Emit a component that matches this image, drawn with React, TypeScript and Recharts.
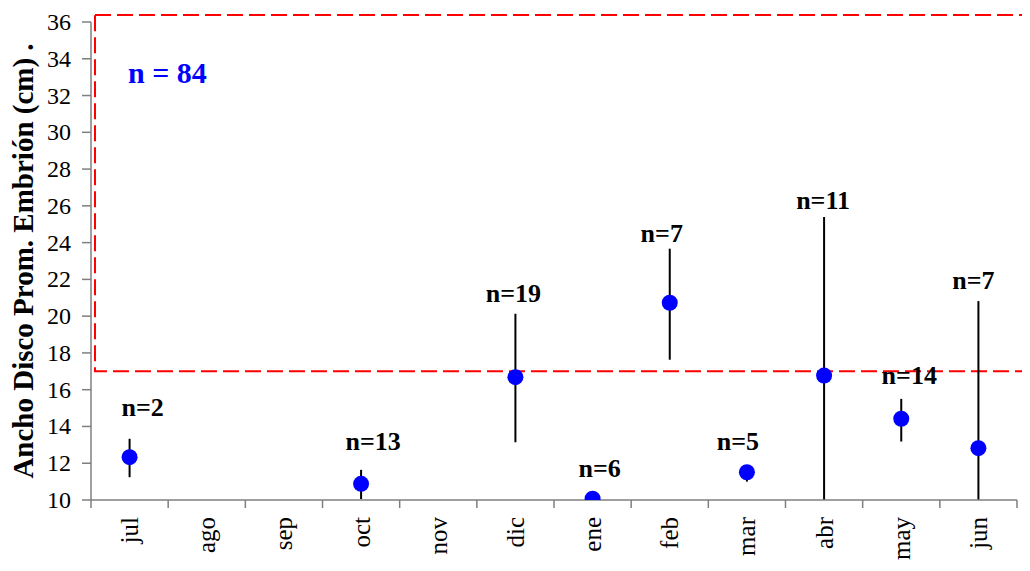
import React from "react";
import { ComposedChart, ErrorBar, ReferenceArea, Scatter, XAxis, YAxis } from "recharts";

const months = ["jul", "ago", "sep", "oct", "nov", "dic", "ene", "feb", "mar", "abr", "may", "jun"];
const means = [12.33, null, null, 10.88, null, 16.68, 10.07, 20.73, 11.51, 16.77, 14.42, 12.82];
const upper = [13.33, null, null, 11.64, null, 20.13, 10.07, 23.67, 11.9, 25.39, 15.5, 20.82];
const lower = [11.24, null, null, 10.05, null, 13.14, 10.07, 17.63, 11.0, 10.0, 13.18, 10.0];
const counts = [2, null, null, 13, null, 19, 6, 7, 5, 11, 14, 7];
// y value where each "n=" label sits
const labelAt = [15.03, null, null, 13.2, null, 21.25, 11.73, 24.5, 13.2, 26.3, 16.77, 21.94];
const yTicks = [10, 12, 14, 16, 18, 20, 22, 24, 26, 28, 30, 32, 34, 36];
const boxBottom = 17;
const boxTop = 36.38;
const totalN = 84;

// small horizontal nudges for the n= labels (layout only)
const labelShift = [13, 0, 0, 12, 0, -2, 7, -8, -9, -1, 8, -5];

const FONT = '"Liberation Serif", "Times New Roman", serif';
const AXIS = "#7f7f7f";
const W = 1022;
const H = 563;
const margin = { top: 14, right: 13, bottom: 0, left: 33 };
const Y_W = 50;
const HALF_BAND = (W - margin.left - margin.right - Y_W) / months.length / 2;

const rows = months.map((m, i) => ({
  month: m,
  mean: means[i],
  err: means[i] == null ? undefined : [means[i]! - lower[i]!, upper[i]! - means[i]!],
  labelAt: labelAt[i],
  n: counts[i],
  shift: labelShift[i],
}));

const MonthTick = (props: any) => {
  const { x, y, index, payload } = props;
  const last = index === months.length - 1;
  return (
    <g>
      <line x1={x - HALF_BAND} y1={y} x2={x - HALF_BAND} y2={y + 8} stroke={AXIS} strokeWidth={1.5} />
      {last && <line x1={x + HALF_BAND} y1={y} x2={x + HALF_BAND} y2={y + 8} stroke={AXIS} strokeWidth={1.5} />}
      <text
        x={x}
        y={y + 17}
        transform={`rotate(-90, ${x}, ${y + 17})`}
        textAnchor="end"
        dominantBaseline="central"
        fontFamily={FONT}
        fontSize={25}
        fill="#000"
      >
        {payload.value}
      </text>
    </g>
  );
};

const ValueTick = (props: any) => {
  const { x, y, payload } = props;
  return (
    <text x={x} y={y} textAnchor="end" dominantBaseline="central" fontFamily={FONT} fontSize={24} fill="#000">
      {payload.value}
    </text>
  );
};

const Dot = (props: any) => {
  const { cx, cy, payload } = props;
  if (payload.mean == null || cx == null || cy == null || isNaN(cy)) return <g />;
  return <circle cx={cx} cy={cy} r={8} fill="#0000ff" />;
};

const CountLabel = (props: any) => {
  const { cx, cy, payload } = props;
  if (payload.n == null || cx == null || cy == null || isNaN(cy)) return <g />;
  return (
    <text
      x={cx + payload.shift}
      y={cy}
      textAnchor="middle"
      dominantBaseline="central"
      fontFamily={FONT}
      fontWeight="bold"
      fontSize={26}
      fill="#000"
    >
      n={payload.n}
    </text>
  );
};

// dashed box: starts just right of the y axis and runs past the right edge
const Box = (props: any) => {
  const { x, y, width, height } = props;
  const left = x - HALF_BAND + 4;
  return (
    <g>
      <rect
        x={left}
        y={y}
        width={width + 200}
        height={height}
        fill="none"
        stroke="#ff0000"
        strokeWidth={2}
        strokeDasharray="16 6"
      />
      <text
        x={left + 33}
        y={y + 57}
        dominantBaseline="central"
        fontFamily={FONT}
        fontWeight="bold"
        fontSize={30}
        fill="#0000ff"
      >
        n = {totalN}
      </text>
    </g>
  );
};

const YTitle = (props: any) => {
  const { viewBox } = props;
  const cx = 15;
  const cy = viewBox.y + viewBox.height / 2;
  return (
    <text
      x={cx}
      y={cy}
      transform={`rotate(-90, ${cx}, ${cy})`}
      textAnchor="middle"
      dominantBaseline="central"
      fontFamily={FONT}
      fontWeight="bold"
      fontSize={29}
      fill="#000"
    >
      Ancho Disco Prom. Embrión (cm) .
    </text>
  );
};

export default function App() {
  return (
    <ComposedChart width={W} height={H} data={rows} margin={margin} style={{ fontFamily: FONT }}>
      <XAxis
        dataKey="month"
        type="category"
        padding={{ left: HALF_BAND, right: HALF_BAND }}
        axisLine={{ stroke: AXIS, strokeWidth: 1.5 }}
        tickLine={false}
        tickSize={0}
        tickMargin={0}
        tick={MonthTick}
        interval={0}
        height={71}
      />
      <YAxis
        type="number"
        domain={[10, 36]}
        ticks={yTicks}
        allowDataOverflow
        width={Y_W}
        axisLine={{ stroke: AXIS, strokeWidth: 1.5 }}
        tickLine={{ stroke: AXIS, strokeWidth: 1.5 }}
        tickSize={9}
        tickMargin={11}
        tick={ValueTick}
        label={{ content: YTitle }}
      />
      <ReferenceArea y1={boxBottom} y2={boxTop} ifOverflow="visible" shape={Box} />
      <Scatter dataKey="mean" shape={Dot} isAnimationActive={false}>
        <ErrorBar dataKey="err" direction="y" width={0} stroke="#000" strokeWidth={2} />
      </Scatter>
      <Scatter dataKey="labelAt" shape={CountLabel} isAnimationActive={false} />
    </ComposedChart>
  );
}
